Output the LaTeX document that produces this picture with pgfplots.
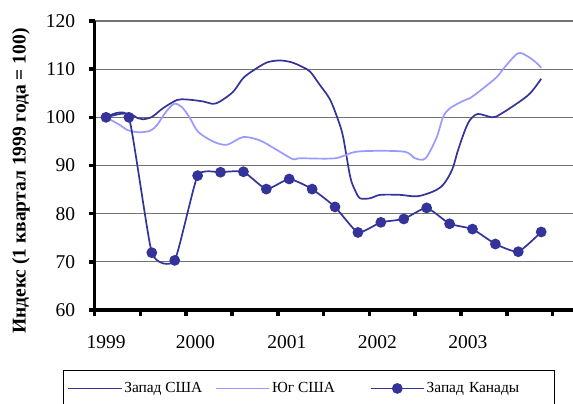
\documentclass[border=0pt]{standalone}
\usepackage{fontspec}
\setmainfont{Liberation Serif}
\usepackage{pgfplots}
\pgfplotsset{compat=1.18}
\definecolor{westus}{RGB}{51,51,153}
\definecolor{southus}{RGB}{153,153,255}
\definecolor{gridgray}{RGB}{115,115,115}

\begin{document}
\begin{tikzpicture}
\begin{axis}[
  scale only axis, width=481pt, height=289pt,
  xmin=-0.5, xmax=20.5, ymin=60, ymax=120,
  axis lines*=left,
  axis line style={line width=3.5pt},
  ytick={60,70,...,120},
  xtick={-0.5,1.5,...,21.5}, xticklabels={},
  extra x ticks={0,3.9,7.9,11.85,15.8},
  extra x tick labels={1999,2000,2001,2002,2003},
  extra x tick style={major tick length=0pt, grid=none},
  tick align=outside, major tick length=6pt,
  tick style={black, line width=3.5pt},
  ymajorgrids=true, grid style={gridgray, line width=1.3pt},
  tick label style={font=\fontsize{19.5}{21}\selectfont},
  /pgf/number format/assume math mode=true,
  xticklabel style={yshift=-22pt},
  yticklabel style={xshift=-10pt},
  ylabel={\textbf{Индекс (1 квартал 1999 года = 100)}},
  ylabel style={font=\fontsize{19.5}{21}\selectfont, at={(axis description cs:-0.153,0.446)}, anchor=center},
  legend style={at={(axis description cs:-0.0656,-0.2076)}, anchor=north west,
    draw=black, line width=1.2pt, font=\fontsize{15.4}{17}\selectfont,
    inner xsep=4pt, inner ysep=10pt,
    /tikz/column 2/.style={column sep=11pt},
    /tikz/column 4/.style={column sep=33pt}},
  legend columns=-1,
  legend image code/.code={\draw[mark repeat=2,mark phase=2,#1] plot coordinates {(0pt,0pt) (26.5pt,0pt) (53pt,0pt)};},
]
\coordinate (sw) at (rel axis cs:0,0);
\addplot[westus, line width=1.7pt, smooth] coordinates {
(0,100) (0.61,100.7) (1.05,100.7) (1.40,99.8) (1.62,99.6) (2.01,100.1) (2.49,101.9)
(3.10,103.6) (3.54,103.7) (4.24,103.3) (4.67,102.8) (4.98,103.3) (5.55,105.3)
(5.98,108.1) (6.42,109.7) (7.03,111.4) (7.60,111.8) (8.12,111.4) (8.60,110.4)
(8.91,109.5) (9.34,106.7) (9.78,103.7) (10.13,99.5) (10.35,96) (10.66,87.7)
(10.87,84.9) (11.09,83.2) (11.53,83.2) (11.97,83.9) (12.84,83.9) (13.58,83.6)
(14.28,84.6) (14.72,86.0) (15.11,89.1) (15.37,93.2) (15.68,97.4) (15.90,99.5)
(16.24,100.7) (16.86,100.0) (17.20,100.6) (17.95,102.9) (18.52,105.0) (19.00,108.0)
};
\addlegendentry{Запад США}
\addplot[southus, line width=1.7pt, smooth] coordinates {
(0,100) (0.61,98.4) (0.92,97.4) (1.40,96.9) (1.92,97.2) (2.23,98.4) (2.58,100.9)
(2.97,102.8) (3.32,102.1) (3.67,99.8) (4.02,97.0) (4.67,95.0) (5.28,94.3)
(5.98,95.9) (6.72,95.2) (7.47,93.2) (8.17,91.3) (8.47,91.5) (10.00,91.5)
(11.00,92.9) (12.97,92.9) (13.49,91.5) (13.84,91.2) (14.06,92.2) (14.45,96.0)
(14.72,100.1) (15.02,101.9) (15.59,103.4) (15.90,104.0) (16.46,106.0) (17.07,108.4)
(17.42,110.5) (17.99,113.3) (18.43,112.6) (18.82,111.2) (19.00,110.3)
};
\addlegendentry{Юг США}
\addplot[westus, line width=1.7pt, smooth, tension=0.3, mark=*, mark size=4.5pt, mark options={solid, fill=westus}] coordinates {
(0,100) (1,100) (2,71.9) (3,70.3) (4,87.9) (5,88.6) (6,88.7) (7,85.1) (8,87.2) (9,85.1)
(10,81.4) (11,76.1) (12,78.2) (13,78.9) (14,81.2) (15,77.9) (16,76.8) (17,73.7)
(18,72.1) (19,76.2)
};
\addlegendentry[text width=122pt]{Запад Канады}
\end{axis}
\pgfresetboundingbox
\path ([shift={(-94.55pt,-94pt)}]sw) rectangle ++(573pt,404pt);
\end{tikzpicture}
\end{document}
